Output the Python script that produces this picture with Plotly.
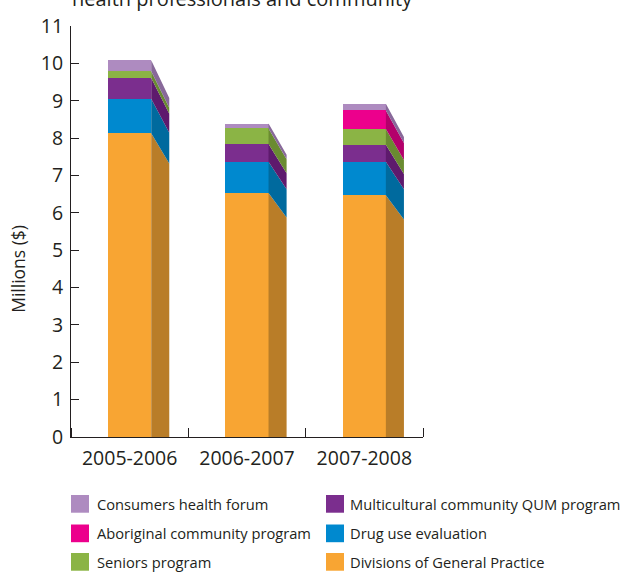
import plotly.graph_objects as go

categories = ["2005-2006", "2006-2007", "2007-2008"]

# stacked bottom -> top
series_names = [
    "Divisions of General Practice",
    "Drug use evaluation",
    "Multicultural community QUM program",
    "Seniors program",
    "Aboriginal community program",
    "Consumers health forum",
]
divisions = [8.13, 6.53, 6.47]
drug_use = [0.92, 0.84, 0.90]
multicultural = [0.56, 0.47, 0.45]
seniors = [0.18, 0.42, 0.42]
aboriginal = [0.0, 0.0, 0.50]
consumers = [0.29, 0.13, 0.18]
series_values = [divisions, drug_use, multicultural, seniors, aboriginal, consumers]

front_colors = ["#F8A533", "#0089CF", "#7B2E8E", "#8BB445", "#EC008C", "#AE8BC0"]
side_colors = ["#B97D28", "#006A9E", "#5E1A6D", "#6A8B31", "#B3006B", "#88699A"]

# legend layout: (column, row) for each series
legend_slots = [(1, 2), (1, 1), (1, 0), (0, 2), (0, 1), (0, 0)]

font_family = "Open Sans, Noto Sans, sans-serif"
text_color = "#231F20"

W, H = 626, 576
M_L, M_R, M_T, M_B = 71, 203, 19, 139
PW, PH = W - M_L - M_R, H - M_T - M_B


def px_x(px):
    return (px - M_L) / PW


def px_y(py):
    return (H - M_B - py) / PH


x_pos = list(range(len(categories)))
bar_w = 0.367
side_d = 0.154
persp = 0.9

fig = go.Figure()

cum = [0.0] * len(categories)
for name, vals, fc, sc in zip(series_names, series_values, front_colors, side_colors):
    fig.add_trace(go.Bar(
        x=x_pos, y=vals, width=bar_w, name=name,
        marker=dict(color=fc, line=dict(width=0)), showlegend=False,
    ))
    xs, ys = [], []
    for i, c in enumerate(x_pos):
        lo = cum[i]
        hi = cum[i] + vals[i]
        if vals[i] > 0:
            x0 = c + bar_w / 2
            x1 = x0 + side_d
            xs += [x0, x1, x1, x0, x0, None]
            ys += [lo, lo * persp, hi * persp, hi, lo, None]
        cum[i] = hi
    fig.add_trace(go.Scatter(
        x=xs, y=ys, mode="lines", fill="toself", fillcolor=sc,
        line=dict(width=0, color=sc), showlegend=False, hoverinfo="skip",
    ))

# manual legend (two columns, three rows)
col_swatch_px = [71, 326]
col_text_px = [95, 348]
row_center_px = [505, 535, 564]
sw = 18
shapes = []
annotations = []
for name, fc, (col, row) in zip(series_names, front_colors, legend_slots):
    cy = row_center_px[row]
    x0 = col_swatch_px[col]
    shapes.append(dict(type="rect", xref="paper", yref="paper",
                       x0=px_x(x0), x1=px_x(x0 + sw),
                       y0=px_y(cy + sw / 2), y1=px_y(cy - sw / 2),
                       fillcolor=fc, line=dict(width=0)))
    annotations.append(dict(text=name, xref="paper", yref="paper",
                            x=px_x(col_text_px[col]), y=px_y(cy),
                            xanchor="left", yanchor="middle", showarrow=False,
                            font=dict(size=14.7, color=text_color)))

annotations += [
    dict(text="health professionals and community", xref="paper", yref="paper",
         x=-0.003, y=1.067, xanchor="left", yanchor="middle", showarrow=False,
         font=dict(size=20, color=text_color)),
    dict(text="Millions ($)", xref="paper", yref="paper", x=px_x(18), y=px_y(266),
         xanchor="center", yanchor="middle", textangle=-90, showarrow=False,
         font=dict(size=17.5, color=text_color)),
]

fig.update_layout(
    width=W, height=H,
    margin=dict(l=M_L, r=M_R, t=M_T, b=M_B),
    barmode="stack",
    paper_bgcolor="white", plot_bgcolor="white",
    font=dict(family=font_family, color=text_color, size=19),
    showlegend=False,
    xaxis=dict(
        range=[-0.5, 2.5], tickmode="array", tickvals=x_pos, ticktext=categories,
        ticks="", showline=True, linecolor=text_color, linewidth=1,
        showgrid=False, zeroline=False, tickfont=dict(size=19.5),
        ticklabelstandoff=4,
        minor=dict(tickmode="array", tickvals=[-0.5, 0.5, 1.5, 2.5], ticks="inside",
                   ticklen=9, tickcolor=text_color, tickwidth=1, showgrid=False),
    ),
    yaxis=dict(
        range=[0, 11], dtick=1, tick0=0, ticks="inside", ticklen=8,
        tickcolor=text_color, showline=True, linecolor=text_color, linewidth=1,
        showgrid=False, zeroline=False, tickfont=dict(size=19.5),
        ticklabelstandoff=3,
    ),
    shapes=shapes,
    annotations=annotations,
)

fig.write_html("out.html")
